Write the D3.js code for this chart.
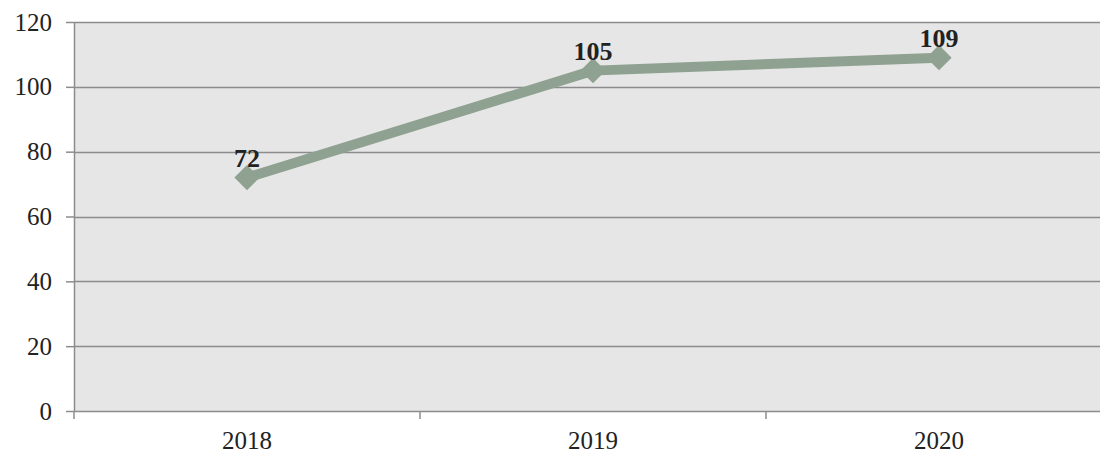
<!DOCTYPE html>
<html><head><meta charset="utf-8">
<script src="https://cdn.jsdelivr.net/npm/d3@7"></script>
<style>body{margin:0;background:#fff;}svg{display:block;}</style>
</head><body><svg id="c" width="1100" height="455"></svg>
<script>
const categories = ["2018", "2019", "2020"];
const values = [72, 105, 109];
const yTicks = [0, 20, 40, 60, 80, 100, 120];

const svg = d3.select("#c");
const m = {left: 74, top: 22, bottom: 411};
const bandW = 346;
const x = d3.scaleBand().domain(categories).range([m.left, m.left + bandW * categories.length]);
const y = d3.scaleLinear().domain([0, 120]).range([m.bottom, m.top]);
const font = "'Liberation Serif', 'Times New Roman', serif";

svg.append("rect").attr("x", m.left).attr("y", m.top)
  .attr("width", x.range()[1] - m.left).attr("height", m.bottom - m.top).attr("fill", "#e6e6e6");

// gridlines
svg.append("g").selectAll("line").data(yTicks.filter(d => d > 0)).join("line")
  .attr("x1", m.left).attr("x2", x.range()[1])
  .attr("y1", d => Math.round(y(d)) + 0.5).attr("y2", d => Math.round(y(d)) + 0.5)
  .attr("stroke", "#8c8c8c").attr("stroke-width", 1.5);

// y axis
const ya = svg.append("g").attr("transform", `translate(${m.left},0)`)
  .call(d3.axisLeft(y).tickValues(yTicks).tickSize(8).tickPadding(14).tickSizeOuter(0));
ya.attr("font-size", null).attr("font-family", null);
ya.select(".domain").attr("stroke", "#8c8c8c").attr("stroke-width", 1.5);
ya.selectAll(".tick line").attr("stroke", "#8c8c8c").attr("stroke-width", 1.5);
ya.selectAll("text").style("font-family", font).style("font-size", "25px").attr("fill", "#222");

// x axis
const xa = svg.append("g").attr("transform", `translate(0,${m.bottom})`)
  .call(d3.axisBottom(x).tickSize(0).tickPadding(0));
xa.attr("font-size", null).attr("font-family", null);
xa.select(".domain").attr("stroke", "#8c8c8c").attr("stroke-width", 1.5);
xa.selectAll("text").style("font-family", font).style("font-size", "25px").attr("fill", "#222")
  .attr("dy", null).attr("y", 38);
const bounds = categories.map(c => x(c)).concat([x.range()[1]]);
svg.append("g").selectAll("line").data(bounds).join("line")
  .attr("x1", d => d).attr("x2", d => d).attr("y1", m.bottom).attr("y2", m.bottom + 8)
  .attr("stroke", "#8c8c8c").attr("stroke-width", 1.5);

const pts = categories.map((c, i) => [x(c) + x.bandwidth() / 2, y(values[i])]);
svg.append("path").datum(pts).attr("d", d3.line())
  .attr("fill", "none").attr("stroke", "#8fa291").attr("stroke-width", 10).attr("stroke-linejoin", "round");

svg.append("g").selectAll("path").data(pts).join("path")
  .attr("d", d3.symbol(d3.symbolSquare, 320)())
  .attr("transform", d => `translate(${d[0]},${d[1]}) rotate(45)`)
  .attr("fill", "#8fa291");

svg.append("g").selectAll("text").data(pts).join("text")
  .attr("x", d => d[0]).attr("y", d => d[1] - 11)
  .attr("text-anchor", "middle").style("font-family", font).attr("font-weight", "bold")
  .style("font-size", "26px").attr("fill", "#222")
  .text((d, i) => values[i]);
</script></body></html>
